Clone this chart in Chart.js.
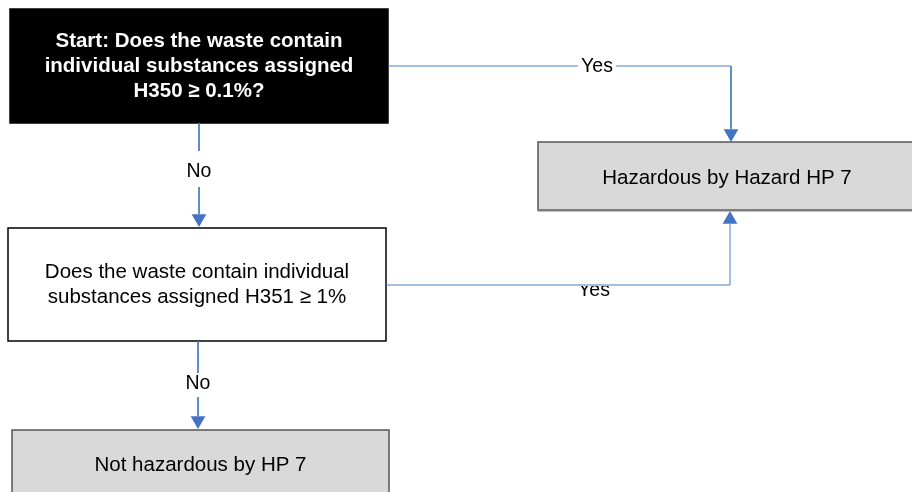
<!DOCTYPE html>
<html>
<head>
<meta charset="utf-8">
<script src="https://cdn.jsdelivr.net/npm/chart.js@4/dist/chart.umd.min.js"></script>
<style>
  html, body { margin: 0; padding: 0; background: #fff; }
  canvas { display: block; }
</style>
</head>
<body>
<canvas id="flow" width="912" height="492"></canvas>
<script>
// flowchart content
const nodeText = [
  ["Start: Does the waste contain", "individual substances assigned", "H350 \u2265 0.1%?"],
  ["Hazardous by Hazard HP 7"],
  ["Does the waste contain individual", "substances assigned H351 \u2265 1%"],
  ["Not hazardous by HP 7"]
];
const edgeLabels = ["Yes", "No", "Yes", "No"];

// layout (canvas units, the axes run 0..912 and 0..492)
const nodeBox = [
  { x0: 10, y0: 9, x1: 388, y1: 123, textY: 66, fill: "#000", stroke: "#000", color: "#fff", bold: true },
  { x0: 538, y0: 142, x1: 916, y1: 210, textY: 178, fill: "#d9d9d9", stroke: "#555", color: "#000" },
  { x0: 8, y0: 228, x1: 386, y1: 341, textY: 285, fill: "#fff", stroke: "#000", color: "#000" },
  { x0: 12, y0: 430, x1: 389, y1: 496, textY: 465, fill: "#d9d9d9", stroke: "#555", color: "#000" }
];
const edgeSegments = [
  [[388, 66], [578, 66]],
  [[616, 66], [731, 66], [731, 129]],
  [[199, 123], [199, 151]],
  [[199, 187], [199, 214]],
  [[386, 285], [730, 285], [730, 224]],
  [[198, 341], [198, 373]],
  [[198, 397], [198, 416]]
];
const arrowTips = [
  { x: 731, y: 142, down: true },
  { x: 199, y: 227, down: true },
  { x: 730, y: 211, down: false },
  { x: 198, y: 429, down: true }
];
const labelPos = [
  { x: 597, y: 67 },
  { x: 199, y: 172 },
  { x: 594, y: 291, clipTop: 286 },
  { x: 198, y: 384 }
];

const FONT = "'Liberation Sans', Arial, sans-serif";
const ARROW_R = 8.5;
const LINE_BLUE = "#4a7ebb";

const flowPlugin = {
  id: "flow",
  beforeDatasetsDraw(chart) {
    const ctx = chart.ctx;
    const sx = chart.scales.x, sy = chart.scales.y;
    nodeBox.forEach((b, i) => {
      const x0 = sx.getPixelForValue(b.x0), x1 = sx.getPixelForValue(b.x1);
      const y0 = sy.getPixelForValue(b.y0), y1 = sy.getPixelForValue(b.y1);
      ctx.save();
      ctx.fillStyle = b.fill;
      ctx.fillRect(x0, y0, x1 - x0, y1 - y0);
      ctx.strokeStyle = b.stroke;
      ctx.lineWidth = 1.5;
      ctx.strokeRect(x0, y0, x1 - x0, y1 - y0);
      if (b.fill === "#d9d9d9") {
        // darker bottom edge
        ctx.strokeStyle = "#7f7f7f";
        ctx.lineWidth = 2;
        ctx.beginPath();
        ctx.moveTo(x0, y1 + 0.5);
        ctx.lineTo(x1, y1 + 0.5);
        ctx.stroke();
      }
      const lines = nodeText[i];
      const lh = b.bold ? 25 : 24.5;
      const cx = (x0 + x1) / 2;
      const cy = sy.getPixelForValue(b.textY);
      ctx.fillStyle = b.color;
      ctx.font = (b.bold ? "bold 20.5px " : "20.5px ") + FONT;
      ctx.textAlign = "center";
      ctx.textBaseline = "middle";
      lines.forEach((t, k) => {
        ctx.fillText(t, cx, cy + (k - (lines.length - 1) / 2) * lh);
      });
      ctx.restore();
    });
    // labels that sit under a line (text clipped above it)
    edgeLabels.forEach((t, i) => {
      const p = labelPos[i];
      if (p.clipTop === undefined) return;
      ctx.save();
      const top = sy.getPixelForValue(p.clipTop);
      ctx.beginPath();
      ctx.rect(0, top, chart.width, chart.height - top);
      ctx.clip();
      ctx.fillStyle = "#000";
      ctx.font = "19.5px " + FONT;
      ctx.textAlign = "center";
      ctx.textBaseline = "middle";
      ctx.fillText(t, sx.getPixelForValue(p.x), sy.getPixelForValue(p.y));
      ctx.restore();
    });
  },
  afterDatasetsDraw(chart) {
    const ctx = chart.ctx;
    const sx = chart.scales.x, sy = chart.scales.y;
    edgeLabels.forEach((t, i) => {
      const p = labelPos[i];
      if (p.clipTop !== undefined) return;
      ctx.save();
      ctx.fillStyle = "#000";
      ctx.font = "19.5px " + FONT;
      ctx.textAlign = "center";
      ctx.textBaseline = "middle";
      ctx.fillText(t, sx.getPixelForValue(p.x), sy.getPixelForValue(p.y));
      ctx.restore();
    });
  }
};

const datasets = edgeSegments.map((seg) => ({
  data: seg.map((p) => ({ x: p[0], y: p[1] })),
  showLine: true,
  borderColor: LINE_BLUE,
  borderWidth: 1,
  pointRadius: 0,
  fill: false,
  tension: 0,
  clip: false
}));

datasets.push({
  data: arrowTips.map((a) => ({ x: a.x, y: a.down ? a.y - ARROW_R : a.y + ARROW_R })),
  showLine: false,
  pointStyle: "triangle",
  pointRadius: ARROW_R,
  pointRotation: arrowTips.map((a) => (a.down ? 180 : 0)),
  pointBackgroundColor: "#4472c4",
  pointBorderColor: "#4472c4",
  pointBorderWidth: 0,
  clip: false
});

new Chart(document.getElementById("flow"), {
  type: "scatter",
  data: { datasets },
  options: {
    responsive: false,
    animation: false,
    events: [],
    layout: { padding: 0, autoPadding: false },
    plugins: { legend: { display: false }, tooltip: { enabled: false } },
    scales: {
      x: { type: "linear", min: 0, max: 912, display: false },
      y: { type: "linear", min: 0, max: 492, reverse: true, display: false }
    }
  },
  plugins: [flowPlugin]
});
</script>
</body>
</html>
